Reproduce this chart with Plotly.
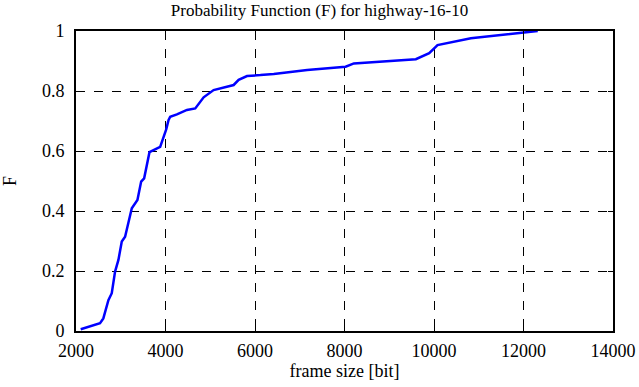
import plotly.graph_objects as go

frame_size = [2105, 2537, 2611, 2724, 2799, 2873, 2948, 3023, 3097, 3247, 3373, 3456, 3523,
              3642, 3881, 4016, 4067, 4105, 4255, 4479, 4665, 4852, 5075, 5523, 5635, 5822,
              6121, 6419, 7166, 8024, 8210, 9594, 9893, 10079, 10824, 12019, 12318]
prob_F = [0.006, 0.026, 0.042, 0.103, 0.126, 0.198, 0.237, 0.298, 0.314, 0.409, 0.437, 0.498, 0.509,
          0.596, 0.614, 0.672, 0.703, 0.714, 0.722, 0.737, 0.742, 0.779, 0.803, 0.82, 0.837, 0.85,
          0.853, 0.857, 0.87, 0.881, 0.892, 0.906, 0.926, 0.953, 0.976, 0.994, 1.0]
x_ticks = [2000, 4000, 6000, 8000, 10000, 12000, 14000]
x_tick_labels = ["2000", "4000", "6000", "8000", "10000", "12000", "14000"]
y_ticks = [0, 0.2, 0.4, 0.6, 0.8, 1]
y_tick_labels = ["0", "0.2", "0.4", "0.6", "0.8", "1"]

font = "Liberation Serif"

fig = go.Figure(go.Scatter(x=frame_size, y=prob_F, mode="lines",
                           line=dict(color="#0000ff", width=2.5)))

axis_common = dict(showline=True, linecolor="black", linewidth=2, mirror="allticks",
                   ticks="inside", ticklen=5, tickcolor="black", showgrid=True,
                   gridcolor="black", griddash="dash", gridwidth=1, zeroline=False,
                   automargin=False,
                   tickfont=dict(family=font, size=18, color="black"))

fig.update_layout(
    width=639, height=387,
    margin=dict(l=76, r=26, t=31, b=56),
    paper_bgcolor="white", plot_bgcolor="white",
    showlegend=False,
    font=dict(family=font, color="black"),
    title=dict(text="Probability Function (F) for highway-16-10", x=0.5, xanchor="center",
               y=1 - 10 / 387, yanchor="middle", yref="container", automargin=False,
               font=dict(family=font, size=17, color="black")),
    xaxis=dict(range=[2000, 14000], tickvals=x_ticks, ticktext=x_tick_labels,
               ticklabelstandoff=2,
               title=dict(text="frame size [bit]", font=dict(family=font, size=18, color="black"), standoff=2),
               **axis_common),
    yaxis=dict(range=[0, 1], tickvals=y_ticks, ticktext=y_tick_labels,
               ticklabelstandoff=6,
               title=dict(text="F", font=dict(family=font, size=18, color="black"), standoff=24),
               **axis_common),
)

fig.write_html("out.html", config={"displayModeBar": False},
               post_script="document.body.style.margin='0';")
